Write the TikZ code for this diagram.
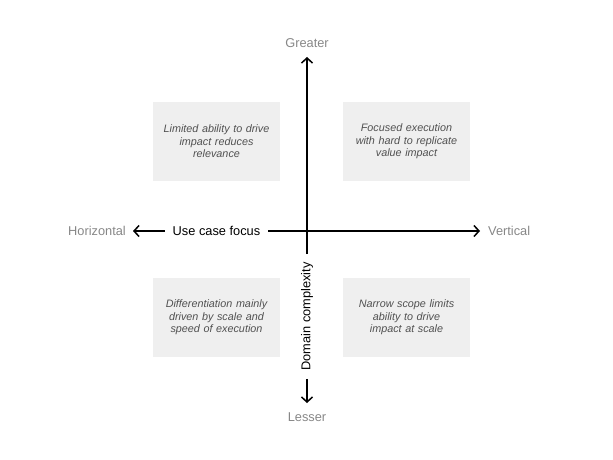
\documentclass[tikz,border=0pt]{standalone}
\usepackage{fontspec}
\setmainfont{Liberation Sans}
\usetikzlibrary{arrows.meta,positioning}
\definecolor{boxfill}{RGB}{239,239,239}
\definecolor{boxtext}{RGB}{80,80,80}
\definecolor{endgray}{RGB}{135,135,135}
\tikzset{
  quadbox/.style={fill=boxfill,minimum width=127pt,minimum height=79pt,inner sep=0pt,
    align=center,text width=124pt,font=\fontsize{10.8pt}{12.5pt}\selectfont\itshape,text=boxtext},
  axislabel/.style={font=\fontsize{12.8pt}{14pt}\selectfont,text=black,inner xsep=8pt,inner ysep=2pt},
  endlabel/.style={font=\fontsize{12.8pt}{14pt}\selectfont,text=endgray,inner sep=1pt},
  axisarrow/.style={-{Straight Barb[length=5pt,width=11pt,line width=1.5pt]},line width=1.5pt,draw=black}
}
\begin{document}
\begin{tikzpicture}[x=1pt,y=-1pt]
  \useasboundingbox (0,0) rectangle (613,460);
  % quadrant boxes
  \node[quadbox] (topleft) at (216.5,141.5) {Limited ability to drive\\impact reduces\\relevance};
  \node[quadbox] (topright) at (406.5,141.5) {Focused execution\\with hard to replicate\\value impact};
  \node[quadbox] (botleft) at (216.5,317.5) {Differentiation mainly\\driven by scale and\\speed of execution};
  \node[quadbox] (botright) at (406.5,317.5) {Narrow scope limits\\ability to drive\\impact at scale};
  % axes
  \coordinate (vtop) at (307,57);
  \coordinate (vbot) at (307,403);
  \coordinate (hleft) at (133,231);
  \coordinate (hright) at (480,231);
  \node[axislabel] (usecase) at (216.5,231) {Use case focus};
  \node[axislabel,rotate=90] (domain) at (307,316.5) {Domain complexity};
  \draw[axisarrow] (usecase) -- (hleft);
  \draw[axisarrow] (usecase) -- (hright);
  \draw[axisarrow] (domain) -- (vtop);
  \draw[axisarrow] (domain) -- (vbot);
  % end labels
  \node[endlabel,anchor=east] (horiz) at (127,231) {Horizontal};
  \node[endlabel,anchor=west] (vert) at (487,231) {Vertical};
  \node[endlabel] (greater) at (307,43) {Greater};
  \node[endlabel] (lesser) at (307,417) {Lesser};
\end{tikzpicture}
\end{document}
